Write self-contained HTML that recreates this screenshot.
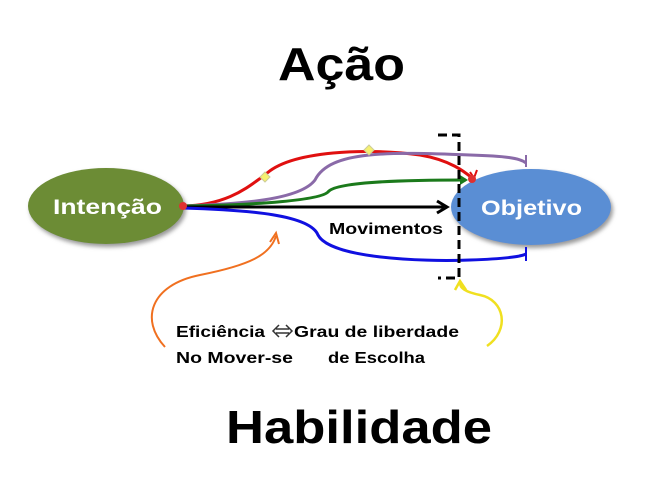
<!DOCTYPE html>
<html><head><style>
body{margin:0;background:#fff;width:660px;height:478px;overflow:hidden;font-family:"Liberation Sans","DejaVu Sans",sans-serif}
</style></head><body>
<svg width="660" height="478" viewBox="0 0 660 478" xmlns="http://www.w3.org/2000/svg" font-family="Liberation Sans, DejaVu Sans, sans-serif" font-weight="bold">
<defs>
<filter id="sh" x="-20%" y="-20%" width="140%" height="150%"><feDropShadow dx="2" dy="3" stdDeviation="2" flood-color="#999"/></filter>
</defs>
<text x="278" y="80" font-size="46" textLength="127" lengthAdjust="spacingAndGlyphs" fill="#000">Ação</text>
<text x="226" y="443" font-size="46" textLength="266" lengthAdjust="spacingAndGlyphs" fill="#000">Habilidade</text>
<ellipse cx="106" cy="206" rx="78" ry="38" fill="#6c8c35" filter="url(#sh)"/>
<text x="53" y="214" font-size="21" fill="#fff" textLength="109" lengthAdjust="spacingAndGlyphs">Intenção</text>
<ellipse cx="531" cy="207" rx="80" ry="38" fill="#5a8ed4" filter="url(#sh)"/>
<text x="481" y="215" font-size="21" fill="#fff" textLength="101" lengthAdjust="spacingAndGlyphs">Objetivo</text>
<path d="M183 206 C230 205 250 185 265 175 C290 150 370 148 420 155 C450 160 465 172 472 178" fill="none" stroke="#e01010" stroke-width="3"/>
<path d="M470 172 L474 178 L477 170" stroke="#e01010" stroke-width="2" fill="none"/>
<circle cx="472" cy="179" r="4" fill="#e03030"/>
<path d="M183 206 C240 204 300 200 315 180 C330 150 390 152 470 155 C505 156 520 158 526 163" fill="none" stroke="#8a6aa8" stroke-width="3"/>
<line x1="526" y1="155" x2="526" y2="167" stroke="#8a6aa8" stroke-width="2"/>
<path d="M183 206 C260 205 320 200 328 192 C335 182 400 180 466 180" fill="none" stroke="#1b7a1b" stroke-width="3"/>
<path d="M460 175 L468 180 L460 185" fill="#1b7a1b"/>
<path d="M183 207 L444 207" stroke="#000" stroke-width="3"/>
<path d="M437 201 L447 207 L437 213" fill="none" stroke="#000" stroke-width="3"/>
<path d="M183 208 C250 210 310 215 318 235 C330 258 420 262 470 260 C500 259 520 257 526 254" fill="none" stroke="#1010e0" stroke-width="3"/>
<line x1="526" y1="247" x2="526" y2="261" stroke="#1010e0" stroke-width="2"/>
<circle cx="183" cy="206" r="4" fill="#e03030"/>
<path d="M265 172 L270 177 L265 182 L260 177Z" fill="#f5f070" stroke="#cc9" stroke-width="1"/>
<path d="M369 145 L374 150 L369 155 L364 150Z" fill="#f5f070" stroke="#cc9" stroke-width="1"/>
<text x="329" y="234" font-size="16" textLength="114" lengthAdjust="spacingAndGlyphs" fill="#000">Movimentos</text>
<path d="M438 135 L459 135 L459 278 L438 278" fill="none" stroke="#000" stroke-width="3" stroke-dasharray="9 5"/>
<path d="M165 347 C140 320 150 285 200 275 C250 265 270 255 276 236" fill="none" stroke="#f07020" stroke-width="2"/>
<path d="M270 242 L276 233 L279 244" fill="none" stroke="#f07020" stroke-width="2"/>
<path d="M487 346 C510 330 505 300 480 295 C465 292 460 288 460 283" fill="none" stroke="#f0e020" stroke-width="2.5"/>
<path d="M455 290 L460 281 L466 290" fill="none" stroke="#f0e020" stroke-width="2.5"/>
<text x="176" y="337" font-size="16" textLength="89" lengthAdjust="spacingAndGlyphs" fill="#000">Eficiência</text>
<g fill="none" stroke="#333" stroke-width="1.5">
<path d="M276 333 L289 333 M276 329 L289 329 M279 325 L273 331 L279 337 M286 325 L292 331 L286 337"/>
</g>
<text x="294" y="337" font-size="16" textLength="165" lengthAdjust="spacingAndGlyphs" fill="#000">Grau de liberdade</text>
<text x="176" y="363" font-size="16" textLength="117" lengthAdjust="spacingAndGlyphs" fill="#000">No Mover-se</text>
<text x="328" y="363" font-size="16" textLength="97" lengthAdjust="spacingAndGlyphs" fill="#000">de Escolha</text>
</svg>
</body></html>
